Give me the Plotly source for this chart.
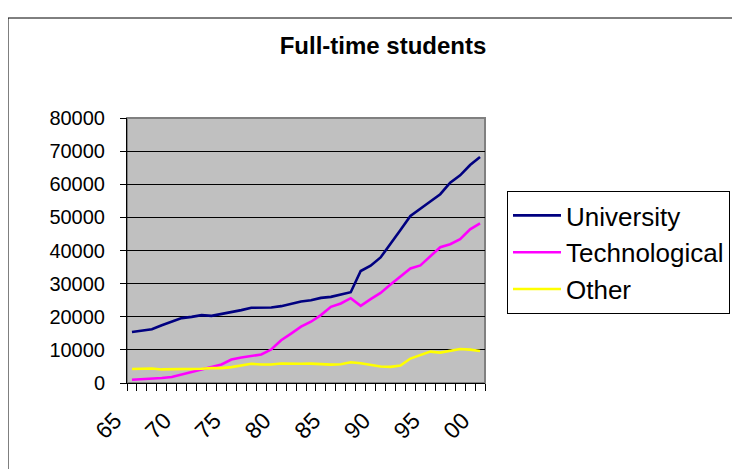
import plotly.graph_objects as go

years = [1965, 1966, 1967, 1968, 1969, 1970, 1971, 1972, 1973, 1974, 1975, 1976,
         1977, 1978, 1979, 1980, 1981, 1982, 1983, 1984, 1985, 1986, 1987, 1988,
         1989, 1990, 1991, 1992, 1993, 1994, 1995, 1996, 1997, 1998, 1999, 2000]

university = [15400, 15850, 16250, 17450, 18580, 19580, 19970, 20480, 20280, 20790,
              21390, 22000, 22700, 22800, 22800, 23200, 24000, 24600, 25000, 25700,
              26000, 26700, 27400, 33800, 35400, 37900, 41900, 46200, 50400, 52500,
              54800, 57000, 60500, 62700, 65800, 68200]

technological = [1000, 1100, 1300, 1500, 1800, 2500, 3200, 4000, 4800, 5600,
                 7100, 7700, 8200, 8600, 10100, 12900, 14900, 17000, 18500, 20500,
                 23000, 24000, 25600, 23300, 25300, 27200, 29700, 32100, 34600, 35500,
                 38100, 41000, 41900, 43400, 46400, 48200]

other = [4240, 4300, 4400, 4100, 4100, 4200, 4200, 4300, 4500, 4500,
         4800, 5400, 5800, 5600, 5600, 5900, 5800, 5800, 5860, 5660,
         5560, 5660, 6260, 5960, 5360, 4960, 4860, 5260, 7380, 8470,
         9480, 9180, 9780, 10280, 10080, 9680]

label_years = [1965, 1970, 1975, 1980, 1985, 1990, 1995, 2000]
label_text = ["65", "70", "75", "80", "85", "90", "95", "00"]

y_ticks = [0, 10000, 20000, 30000, 40000, 50000, 60000, 70000, 80000]

FONT = "Liberation Sans, Arial, sans-serif"

# page body has an 8px margin; the figure is sized/positioned to compensate
W, H = 732, 461
L, T, R, B = 119, 110, 255, 86

fig = go.Figure()
fig.add_trace(go.Scatter(x=years, y=university, name="University", mode="lines",
                         line=dict(color="#000080", width=2.6)))
fig.add_trace(go.Scatter(x=years, y=technological, name="Technological", mode="lines",
                         line=dict(color="#FF00FF", width=2.6)))
fig.add_trace(go.Scatter(x=years, y=other, name="Other", mode="lines",
                         line=dict(color="#FFFF00", width=2.6)))

plot_w = W - L - R
plot_h = H - T - B

fig.update_layout(
    width=W, height=H, autosize=False,
    margin=dict(l=L, r=R, t=T, b=B, pad=0, autoexpand=False),
    paper_bgcolor="white",
    plot_bgcolor="#C0C0C0",
    font=dict(family=FONT, color="black", size=20),
    title=dict(text="<b>Full-time students</b>", x=(375 - L) / plot_w, xref="paper",
               xanchor="center", y=1 - 38 / H, yref="container", yanchor="middle",
               font=dict(family=FONT, size=24, color="black")),
    showlegend=True,
    legend=dict(x=(499 - L) / plot_w, y=(H - B - 183) / plot_h, xanchor="left", yanchor="top",
                bgcolor="white", bordercolor="black", borderwidth=1,
                font=dict(family=FONT, size=26, color="black"),
                itemwidth=48, tracegroupgap=0),
    shapes=[
        dict(type="rect", xref="paper", yref="paper", x0=0, x1=1, y0=0, y1=1,
             line=dict(color="#808080", width=2), layer="below"),
        dict(type="rect", xref="paper", yref="paper",
             x0=(0 - L) / plot_w, x1=1.9, y0=-0.6, y1=(H - B - 10) / plot_h,
             line=dict(color="black", width=1), layer="below"),
    ],
)

fig.update_xaxes(
    range=[1964.5, 2000.5],
    tickmode="array", tickvals=label_years, ticktext=label_text,
    tickangle=-45, ticks="", showgrid=False, zeroline=False,
    showline=True, linecolor="black", linewidth=1,
    tickfont=dict(family=FONT, size=23, color="black"),
    ticklabelstandoff=14, ticklabelshift=-17,
    minor=dict(tick0=1964.5, dtick=1, ticks="outside", ticklen=7,
               tickcolor="black", tickwidth=1, showgrid=False),
)

fig.update_yaxes(
    range=[0, 80000], tickmode="array", tickvals=y_ticks, tickformat="d",
    ticks="outside", ticklen=6, tickcolor="black", tickwidth=1,
    showgrid=True, gridcolor="black", gridwidth=1, zeroline=False,
    showline=True, linecolor="black", linewidth=1,
    tickfont=dict(family=FONT, size=20, color="black"),
    ticklabelstandoff=11,
)

fig.write_html("out.html")
